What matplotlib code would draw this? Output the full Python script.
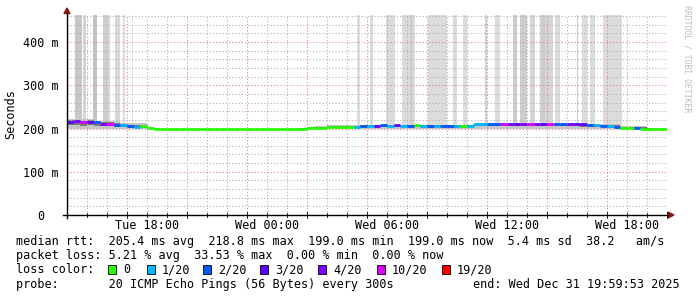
import numpy as np
import matplotlib
matplotlib.use("Agg")
import matplotlib.pyplot as plt
import matplotlib.dates as mdates
from matplotlib.patches import Polygon, Rectangle
from matplotlib.ticker import FixedLocator
from datetime import datetime, timedelta

# ---------------- data ----------------
start = datetime(2025, 12, 30, 14, 0)
end = datetime(2025, 12, 31, 20, 0)
step_minutes = 20

median_ms = ([216, 217, 215, 216, 214, 211, 211, 209, 207, 205, 204, 205, 201]
             + [199] * 22
             + [200, 201, 202, 201, 203, 203, 204, 203, 204, 205, 205, 206,
                207, 206, 207, 206, 206, 207, 206, 205, 206, 206, 205, 206, 205, 206,
                210, 210, 210, 210, 210, 210, 210, 210, 210, 210, 210, 210, 210, 210, 210, 210,
                210, 209, 207, 206, 205, 204, 202, 202, 201, 200, 200, 199, 199])

loss_idx = ([3, 4, 5, 3, 2, 4, 5, 2, 1, 2, 1, 0, 0]
            + [0] * 22
            + [0, 0, 0, 0, 0, 0, 0, 0, 1, 2, 1, 3,
               2, 1, 3, 1, 2, 0, 1, 2, 1, 2, 2, 1, 0, 1,
               1, 1, 2, 2, 5, 4, 3, 4, 5, 4, 3, 5, 2, 2, 4, 3,
               3, 2, 1, 2, 1, 2, 0, 0, 2, 0, 0, 0, 0])

smoke_lo_ms = ([198, 198, 198, 198, 199, 199, 199, 199, 199, 199, 199, 199, 199]
               + [199] * 22
               + [199, 200, 201, 200, 201, 202, 202, 202, 200, 200, 200, 200,
                  199, 199, 199, 199, 199, 199, 199, 199, 199, 199, 199, 199, 199, 199,
                  200, 200, 200, 200, 200, 200, 200, 200, 200, 200, 200, 200, 200, 200, 200, 200,
                  199, 199, 199, 199, 199, 199, 198, 198, 198, 198, 198, 198, 198])

smoke_hi_ms = ([222, 222, 222, 222, 218, 218, 218, 218, 212, 212, 212, 212, 203]
               + [199] * 22
               + [201, 204, 205, 206, 207, 207, 208, 207, 209, 209, 209, 209,
                  209, 209, 209, 209, 209, 209, 209, 209, 209, 209, 209, 209, 209, 209,
                  212, 212, 212, 212, 212, 212, 212, 212, 212, 212, 212, 212, 212, 212, 212, 212,
                  211, 211, 211, 211, 211, 211, 206, 206, 206, 206, 201, 201, 201])

loss_labels = ["0", "1/20", "2/20", "3/20", "4/20", "10/20", "19/20"]
loss_colors = ["#26ff00", "#00b8ff", "#0059ff", "#5e00ff", "#7e00ff", "#dd00ff", "#ff0000"]

# high-rtt spikes (hours after start, hours after start, shade)
spike_start_h = [0.40, 0.80, 1.30, 1.80, 2.00, 2.40, 2.80, 3.25,
                 14.52, 15.15, 15.95, 16.73, 17.15, 17.30, 18.03, 19.28, 19.80,
                 20.90, 21.40, 22.28, 22.65, 23.15, 23.65, 23.90, 24.40,
                 25.48, 25.73, 26.15, 26.78]
spike_end_h = [0.75, 0.95, 1.50, 2.00, 2.15, 2.65, 2.90, 3.32,
               14.65, 15.28, 16.40, 17.15, 17.30, 17.40, 18.98, 19.48, 19.98,
               20.98, 21.65, 22.48, 22.98, 23.40, 23.90, 24.30, 24.65,
               25.57, 26.00, 26.40, 27.73]
spike_shade = ["#c8c8c8", "#d6d6d6", "#c4c4c4", "#cdcdcd", "#d9d9d9", "#d9d9d9", "#dcdcdc", "#e2e2e2",
               "#dcdcdc", "#dcdcdc", "#dcdcdc", "#dcdcdc", "#cfcfcf", "#dcdcdc", "#dcdcdc", "#dcdcdc", "#dcdcdc",
               "#d0d0d0", "#dcdcdc", "#cdcdcd", "#cdcdcd", "#d6d6d6", "#cdcdcd", "#d6d6d6", "#dcdcdc",
               "#c8c8c8", "#dcdcdc", "#dcdcdc", "#dcdcdc"]

ytick_vals = [0.0, 0.1, 0.2, 0.3, 0.4]
ytick_labels = ["0  ", "100 m", "200 m", "300 m", "400 m"]

stats_lines = [
    "median rtt:  205.4 ms avg  218.8 ms max  199.0 ms min  199.0 ms now  5.4 ms sd  38.2   am/s",
    "packet loss: 5.21 % avg  33.53 % max  0.00 % min  0.00 % now",
]
probe_text = "probe:       20 ICMP Echo Pings (56 Bytes) every 300s"
end_text = "end: Wed Dec 31 19:59:53 2025"

# ---------------- figure ----------------
W, H = 697, 297
MONO = "DejaVu Sans Mono"
FS = 8.5
fig = plt.figure(figsize=(W / 100, H / 100), dpi=100)
fig.patch.set_facecolor("white")

def fx(px):
    return px / W

def fy(py):
    return 1 - py / H

ax_l, ax_r, ax_t, ax_b = 67, 667, 15, 215
ax = fig.add_axes([fx(ax_l), fy(ax_b), (ax_r - ax_l) / W, (ax_b - ax_t) / H])
ax.set_facecolor("white")

n = len(median_ms)
edges = [start + timedelta(minutes=step_minutes * i) for i in range(n + 1)]
edges_num = mdates.date2num(edges)
ymax = 0.4625

# spikes
for s, e, c in zip(spike_start_h, spike_end_h, spike_shade):
    x0 = mdates.date2num(start + timedelta(hours=s))
    x1 = mdates.date2num(start + timedelta(hours=e))
    ax.bar(x0, ymax - 0.205, width=x1 - x0, bottom=0.205, align="edge",
           color=c, linewidth=0, zorder=1)

# smoke
med = np.array(median_ms) / 1000.0
lo = np.array(smoke_lo_ms) / 1000.0
hi = np.array(smoke_hi_ms) / 1000.0
ext = lambda a: np.append(a, a[-1])
ax.fill_between(edges_num, ext(lo), ext(hi), step="post", color="#c6c6c6", linewidth=0, zorder=2)
ax.fill_between(edges_num, ext((lo + med) / 2), ext((hi + med) / 2), step="post",
                color="#7a7a7a", linewidth=0, zorder=2.1)

# grid lines (drawn over the smoke, under the median line)
dots = (0, (1.1, 2.0))
minor_col, major_col = "#b2b2b2", "#e48484"
for h in range(1, 31):
    xv = mdates.date2num(start + timedelta(hours=h))
    ax.axvline(xv, color=major_col if h % 3 == 0 else minor_col,
               linestyle=dots, linewidth=0.75, zorder=3)
for k in range(1, 24):
    v = k * 0.02
    ax.axhline(v, color=major_col if k % 5 == 0 else minor_col,
               linestyle=dots, linewidth=0.75, zorder=3)

# median line coloured by loss
for i in range(n):
    ax.hlines(med[i], edges_num[i], edges_num[i + 1], color=loss_colors[loss_idx[i]],
              linewidth=2.0, zorder=4)
    if i + 1 < n and loss_idx[i] == loss_idx[i + 1] and med[i] != med[i + 1]:
        ax.vlines(edges_num[i + 1], min(med[i], med[i + 1]), max(med[i], med[i + 1]),
                  color=loss_colors[loss_idx[i]], linewidth=1.2, zorder=4)

ax.set_xlim(mdates.date2num(start), mdates.date2num(end))
ax.set_ylim(0, ymax)

ax.xaxis.set_major_locator(mdates.HourLocator(byhour=[0, 6, 12, 18]))
ax.xaxis.set_major_formatter(mdates.DateFormatter("%a %H:%M"))
ax.yaxis.set_major_locator(FixedLocator(ytick_vals))
ax.set_yticklabels(ytick_labels)

for sp in ["top", "right", "left", "bottom"]:
    ax.spines[sp].set_visible(False)

ax.tick_params(which="both", length=0)
ax.tick_params(axis="y", pad=5.8, labelsize=FS)
ax.tick_params(axis="x", pad=3.0, labelsize=FS)
for lab in ax.get_xticklabels() + ax.get_yticklabels():
    lab.set_fontfamily(MONO)
    lab.set_color("#000000")

# axes lines and arrows (figure pixel coords)
axis_col = "black"
arrow_col = "#8b1a1a"
fig.add_artist(plt.Line2D([fx(63), fx(668)], [fy(215), fy(215)], color=axis_col, linewidth=1.0))
fig.add_artist(plt.Line2D([fx(67), fx(67)], [fy(218), fy(13)], color=axis_col, linewidth=1.0))
fig.add_artist(Polygon([[fx(668), fy(212)], [fx(674), fy(215)], [fx(668), fy(218)]],
                       closed=True, color=arrow_col, transform=fig.transFigure))
fig.add_artist(Polygon([[fx(64), fy(13.5)], [fx(67), fy(8)], [fx(70), fy(13.5)]],
                       closed=True, color=arrow_col, transform=fig.transFigure))
# small tick marks
for h in range(0, 31):
    xp = ax_l + h * 20
    ln = 3 if h % 3 == 0 else 2
    fig.add_artist(plt.Line2D([fx(xp), fx(xp)], [fy(215 - ln), fy(215 + ln)], color=axis_col, linewidth=0.6))

fig.text(fx(11), fy(114), "Seconds", rotation=90, ha="center", va="center",
         fontsize=FS, family=MONO, color="black")
fig.text(fx(687), fy(5), "RRDTOOL / TOBI OETIKER", rotation=270, ha="center", va="top",
         fontsize=5.9, family=MONO, color="#bdbdbd")

# legend / stats
fig.text(fx(16), fy(245), stats_lines[0], ha="left", va="baseline", fontsize=FS, family=MONO)
fig.text(fx(16), fy(259.3), stats_lines[1], ha="left", va="baseline", fontsize=FS, family=MONO)
fig.text(fx(16), fy(273.4), "loss color:", ha="left", va="baseline", fontsize=FS, family=MONO)
box_x = [108, 147, 203, 260, 318, 377, 442]
for bx, lab, col in zip(box_x, loss_labels, loss_colors):
    fig.add_artist(Rectangle((fx(bx), fy(273.5)), 8 / W, 9 / H, facecolor=col,
                             edgecolor="black", linewidth=0.6, transform=fig.transFigure))
    fig.text(fx(bx + 15), fy(273.4), lab, ha="left", va="baseline", fontsize=FS, family=MONO)
fig.text(fx(16), fy(287.7), probe_text, ha="left", va="baseline", fontsize=FS, family=MONO)
fig.text(fx(680), fy(287.7), end_text, ha="right", va="baseline", fontsize=FS, family=MONO)

fig.savefig("out.png", dpi=100, facecolor="white")
